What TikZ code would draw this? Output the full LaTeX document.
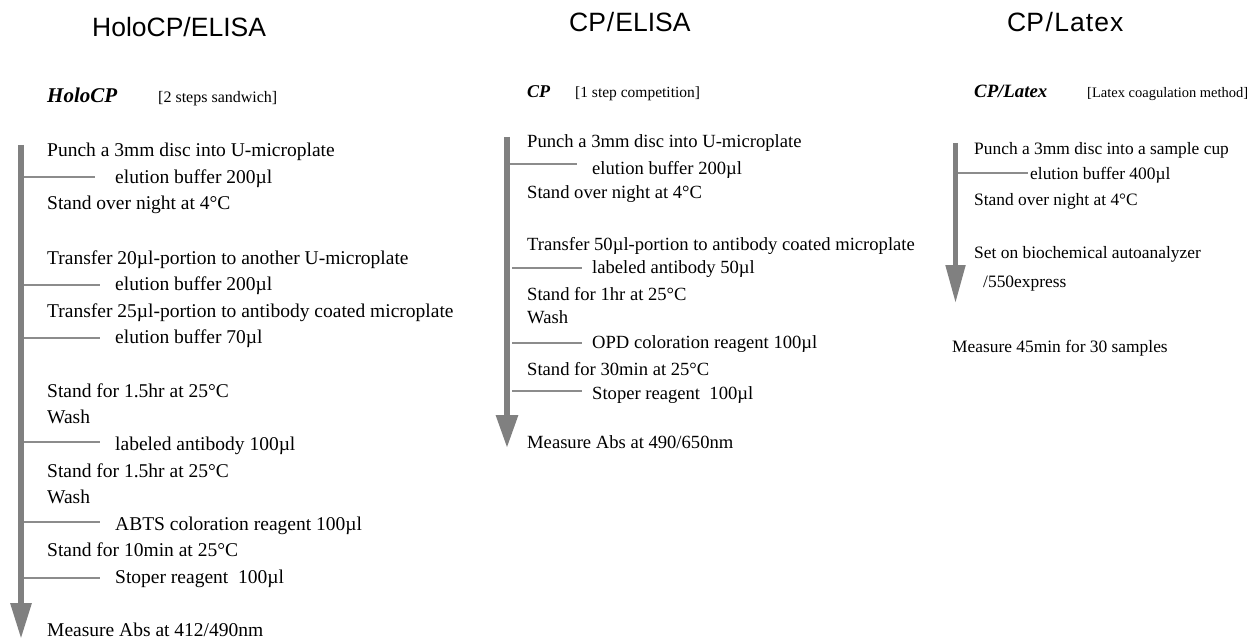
\documentclass[tikz,border=0pt]{standalone}
\usepackage{fontspec}
\setmainfont{Liberation Serif}
\newfontfamily\titlefont{Liberation Sans}
\newfontfamily\titlefontsp{Liberation Sans}[LetterSpace=4]
\usetikzlibrary{arrows.meta}
\definecolor{barcol}{RGB}{128,128,128}
\definecolor{brcol}{RGB}{140,140,140}
\tikzset{
  txt/.style={anchor=base west,inner sep=0pt,font=\fontsize{#1}{#1}\selectfont},
  ttl/.style={anchor=base west,inner sep=0pt,font=\titlefont\fontsize{26.5}{27}\selectfont},
  sub/.style={anchor=base west,inner sep=0pt,font=\bfseries\itshape\fontsize{#1}{#1}\selectfont},
  flow/.style={draw=barcol,line width=#1},
  branch/.style={draw=brcol,line width=2pt}
}
\begin{document}
\begin{tikzpicture}[x=1pt,y=1pt]
\useasboundingbox (0,0) rectangle (1252,-639);
% titles
\node[ttl] (t1) at (92,-37) {HoloCP/ELISA};
\node[ttl] (t2) at (569,-32) {CP\kern1pt/\kern1pt ELISA};
\node[ttl] (t3) at (1007,-32) {CP\kern1.5pt/\kern1.5pt{\titlefontsp Latex}};
% sub headers
\node[sub=21] (s1) at (47,-103) {HoloCP};
\node[txt=16] (s1b) at (158,-103) {[2 steps sandwich]};
\node[sub=18] (s2) at (527,-98) {CP};
\node[txt=15.5] (s2b) at (575,-98) {[1 step competition]};
\node[sub=18.8] (s3) at (974,-98) {CP/Latex};
\node[txt=14.5] (s3b) at (1087,-98) {[Latex coagulation method]};
% left column
\coordinate (Ltop) at (21,-145);
\coordinate (Ltip) at (21,-639);
\draw[flow=6pt,-{Triangle[length=36pt,width=20pt]},barcol] (Ltop) -- (Ltip);
\foreach \n/\x/\y/\t in {a1/47/157/{Punch a 3mm disc into U-microplate},
  a2/115/184/{elution buffer 200µl},
  a3/47/210/{Stand over night at 4°C},
  a4/47/264/{Transfer 20µl-portion to another U-microplate},
  a5/115/290/{elution buffer 200µl},
  a6/47/317/{Transfer 25µl-portion to antibody coated microplate},
  a7/115/343/{elution buffer 70µl},
  a8/47/397/{Stand for 1.5hr at 25°C},
  a9/47/423/{Wash},
  a10/115/450/{labeled antibody 100µl},
  a11/47/477/{Stand for 1.5hr at 25°C},
  a12/47/503/{Wash},
  a13/115/530/{ABTS coloration reagent 100µl},
  a14/47/556/{Stand for 10min at 25°C},
  a15/115/583/{Stoper reagent\ \ 100µl},
  a16/47/636/{Measure Abs at 412/490nm}}
  {\node[txt=19.5] (\n) at (\x,-\y) {\t};}
\foreach \n/\xa/\xb/\y in {la1/24/95/177,la2/24/100/285,la3/24/100/338,la4/24/100/442,la5/24/100/522,la6/24/100/578}
  {\coordinate (\n s) at (\xa,-\y); \coordinate (\n e) at (\xb,-\y); \draw[branch] (\n s) -- (\n e);}
% middle column
\coordinate (Mtop) at (507,-137);
\coordinate (Mtip) at (507,-448);
\draw[flow=6pt,-{Triangle[length=33pt,width=21pt]},barcol] (Mtop) -- (Mtip);
\foreach \n/\x/\y/\t in {b1/527/148/{Punch a 3mm disc into U-microplate},
  b2/592/175/{elution buffer 200µl},
  b3/527/199/{Stand over night at 4°C},
  b4/527/250/{Transfer 50µl-portion to antibody coated microplate},
  b5/592/273/{labeled antibody 50µl},
  b6/527/300/{Stand for 1hr at 25°C},
  b7/527/323/{Wash},
  b8/592/348/{OPD coloration reagent 100µl},
  b9/527/375/{Stand for 30min at 25°C},
  b10/592/399/{Stoper reagent\ \ 100µl},
  b11/527/448/{Measure Abs at 490/650nm}}
  {\node[txt=18.6] (\n) at (\x,-\y) {\t};}
\foreach \n/\xa/\xb/\y in {lb1/510/577/164,lb2/512/582/268,lb3/512/582/343,lb4/512/582/391}
  {\coordinate (\n s) at (\xa,-\y); \coordinate (\n e) at (\xb,-\y); \draw[branch] (\n s) -- (\n e);}
% right column
\coordinate (Rtop) at (955.5,-143);
\coordinate (Rtip) at (955.5,-303);
\draw[flow=5pt,-{Triangle[length=38pt,width=19pt]},barcol] (Rtop) -- (Rtip);
\foreach \n/\x/\y/\t in {c1/974/155/{Punch a 3mm disc into a sample cup},
  c2/1030/180/{elution buffer 400µl},
  c3/974/205/{Stand over night at 4°C},
  c4/974/258/{Set on biochemical autoanalyzer},
  c5/983/287/{/550express},
  c6/952/352/{Measure 45min for 30 samples}}
  {\node[txt=17.4] (\n) at (\x,-\y) {\t};}
\coordinate (lc1s) at (958,-173);
\coordinate (lc1e) at (1028,-173);
\draw[branch] (lc1s) -- (lc1e);
\end{tikzpicture}
\end{document}
